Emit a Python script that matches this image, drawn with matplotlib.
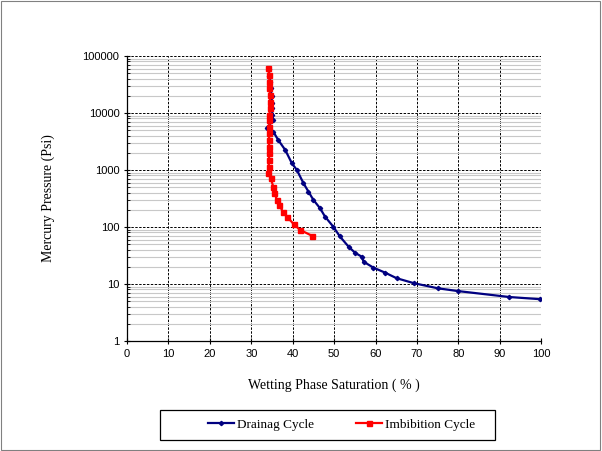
import matplotlib
matplotlib.use('Agg')
import matplotlib.pyplot as plt
from matplotlib.ticker import LogLocator, FixedLocator, NullFormatter

plt.rcParams['font.family'] = ['Liberation Sans', 'DejaVu Sans']

# drainage cycle (wetting phase saturation %, mercury pressure psi)
drain_sw = [34.2, 34.4, 34.6, 34.7, 34.9, 35.0, 35.0, 35.1, 35.3, 33.7,
            35.3, 36.5, 38.2, 39.8, 41.0, 42.6, 43.8, 45.0, 46.6, 47.8,
            49.8, 51.4, 53.5, 55.1, 56.7, 57.1, 59.5, 62.3, 65.1, 69.3,
            75.0, 79.9, 92.3, 99.8]
drain_pc = [60000, 45000, 35000, 27000, 20000, 15000, 12000, 9200, 7400, 5400,
            4700, 3360, 2240, 1310, 1000, 585, 416, 298, 213, 152,
            101, 68, 45, 35, 30, 24.6, 19.3, 15.8, 12.6, 10.3,
            8.4, 7.5, 5.9, 5.4]

# imbibition cycle
imb_sw = [34.1, 34.3, 34.4, 34.4, 34.5, 34.5, 34.5, 34.4, 34.4, 34.4,
          34.3, 34.3, 34.3, 34.3, 34.3, 34.2, 34.1, 34.7, 35.3, 35.6,
          36.2, 36.8, 37.6, 38.6, 40.2, 41.8, 44.6]
imb_pc = [60800, 46400, 35400, 27100, 20700, 15800, 12100, 9230, 7530, 5750,
          4400, 3360, 2560, 1960, 1500, 1140, 875, 714, 509, 390,
          298, 243, 185, 152, 113, 88.5, 70.4]

fig = plt.figure(figsize=(6.02, 4.51), dpi=100)
ax = fig.add_axes([0.211, 0.244, 0.688, 0.632])

ax.plot(drain_sw, drain_pc, color='#000080', lw=1.6, marker='D', ms=2.2,
        label='Drainag Cycle', zorder=3)
ax.plot(imb_sw, imb_pc, color='#FF0000', lw=1.6, marker='s', ms=3.6,
        label='Imbibition Cycle', zorder=4)

ax.set_yscale('log')
ax.set_xlim(0, 100)
ax.set_ylim(1, 100000)
ax.set_xticks(range(0, 101, 10))
ax.yaxis.set_major_locator(FixedLocator([1, 10, 100, 1000, 10000, 100000]))
ax.set_yticklabels(['1', '10', '100', '1000', '10000', '100000'])
ax.yaxis.set_minor_locator(LogLocator(base=10, subs=range(2, 10)))
ax.yaxis.set_minor_formatter(NullFormatter())

ax.grid(which='minor', axis='y', color='#c8c8c8', lw=0.8, ls='-')
ax.grid(which='major', axis='both', color='black', lw=0.7, ls=(0, (2.5, 1.5)))
ax.set_axisbelow(True)

for s in ['top', 'right']:
    ax.spines[s].set_visible(False)
ax.spines['left'].set_linewidth(0.9)
ax.spines['bottom'].set_linewidth(0.9)

ax.tick_params(axis='both', which='major', labelsize=8, length=4, direction='inout')
ax.tick_params(axis='y', which='minor', length=2, direction='in')

ax.set_xlabel('Wetting Phase Saturation ( % )', family='Liberation Serif',
              fontsize=10, labelpad=14)
ax.set_ylabel('Mercury Pressure (Psi)', family='Liberation Serif',
              fontsize=10, labelpad=20)

# legend box drawn separately (excel-style padding)
fig.patches.append(plt.Rectangle((0.266, 0.024), 0.556, 0.067, transform=fig.transFigure,
                                 fill=False, edgecolor='black', lw=0.9))
fig.legend(loc='center', bbox_to_anchor=(0.567, 0.058), ncol=2,
           prop={'family': 'Liberation Serif', 'size': 9.5},
           frameon=False, handlelength=2.0, handletextpad=0.2,
           columnspacing=3.2, borderaxespad=0)

fig.patches.append(plt.Rectangle((0.002, 0.003), 0.995, 0.994, transform=fig.transFigure,
                                 fill=False, edgecolor='#808080', lw=0.8))

fig.savefig('out.png', dpi=100)
